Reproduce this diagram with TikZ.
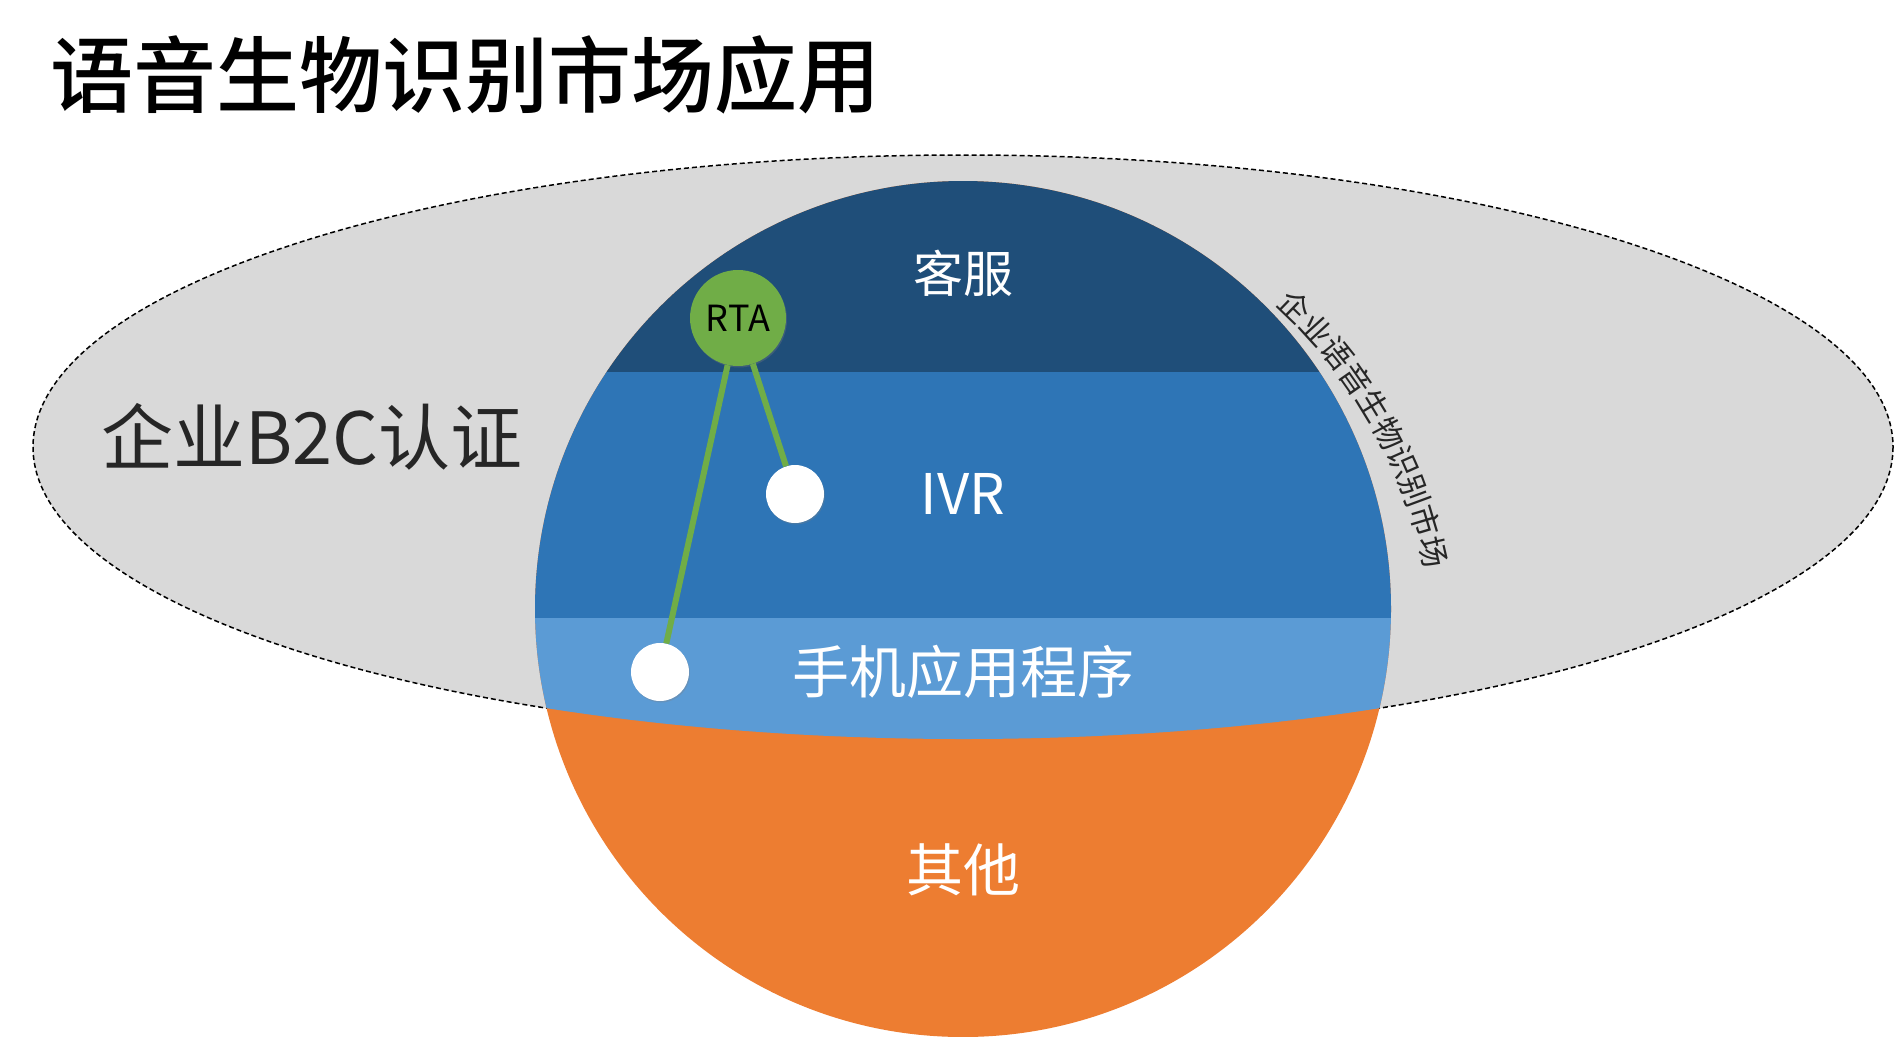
\documentclass[tikz,border=0pt]{standalone}
\usepackage{fontspec}
\setmainfont{Noto Sans CJK SC}
\newfontfamily\titlefont{Noto Sans CJK SC}[UprightFont = {* Medium}]
\usepackage{tikz}
\usetikzlibrary{decorations.text, shadows}
\definecolor{topblue}{HTML}{1F4E79}
\definecolor{midblue}{HTML}{2E75B6}
\definecolor{lowblue}{HTML}{5B9BD5}
\definecolor{othorange}{HTML}{ED7D31}
\definecolor{rtagreen}{HTML}{70AD47}
\definecolor{fieldgray}{HTML}{D9D9D9}
\definecolor{darktext}{HTML}{262626}

\begin{document}
\begin{tikzpicture}[x = 1pt, y = -1pt,
  bandlabel/.style = {text = white, font = \fontsize{57}{60}\selectfont},
  dot/.style = {circle, fill = white, minimum size = 58pt, inner sep = 0pt,
    drop shadow = {opacity = .3, shadow xshift = 1pt, shadow yshift = -1.5pt}},
  link/.style = {line width = 6pt, draw = rtagreen}]
\useasboundingbox (0,0) rectangle (1894,1036);
\node[anchor = west, inner sep = 0pt, font = \titlefont\fontsize{83}{90}\selectfont] (title) at (50,75) {语音生物识别市场应用};
\draw[fill = fieldgray, line width = 1.5pt, dash pattern = on 5pt off 3pt] (963,447) ellipse [x radius = 930, y radius = 292];
\begin{scope}
\clip (963,609) circle [radius = 428];
\fill[othorange] (500,150) rectangle (1430,1040);
\clip (963,447) ellipse [x radius = 930, y radius = 292];
\fill[topblue] (500,150) rectangle (1430,372);
\fill[midblue] (500,372) rectangle (1430,618);
\fill[lowblue] (500,618) rectangle (1430,800);
\end{scope}
\path[decorate, decoration = {text along path, text align = center,
  text = {|\fontsize{31}{31}\selectfont\color{darktext}|企业语音生物识别市场}}]
  (951,663) ++(-50:483) arc [start angle = -50, end angle = -9, radius = 483];
\node[anchor = west, inner sep = 0pt, text = darktext, font = \fontsize{72}{76}\selectfont] (b2c) at (101,437) {企业B2C认证};
\node[bandlabel, font = \fontsize{50}{54}\selectfont] (kefu) at (963,273) {客服};
\node[bandlabel, font = \fontsize{56}{60}\selectfont] (ivr) at (963,494) {IVR};
\node[bandlabel] (app) at (963,672) {手机应用程序};
\node[bandlabel] (other) at (963,870) {其他};
\node[circle, fill = rtagreen, minimum size = 96pt, inner sep = 0pt, font = \fontsize{36}{40}\selectfont,
  drop shadow = {opacity = .3, shadow xshift = 1pt, shadow yshift = -1.5pt}] (rta) at (738,318) {RTA};
\node[dot] (ivrdot) at (795,494) {};
\node[dot] (appdot) at (660,672) {};
\draw[link] (rta) -- (ivrdot);
\draw[link] (rta) -- (appdot);
\end{tikzpicture}
\end{document}
